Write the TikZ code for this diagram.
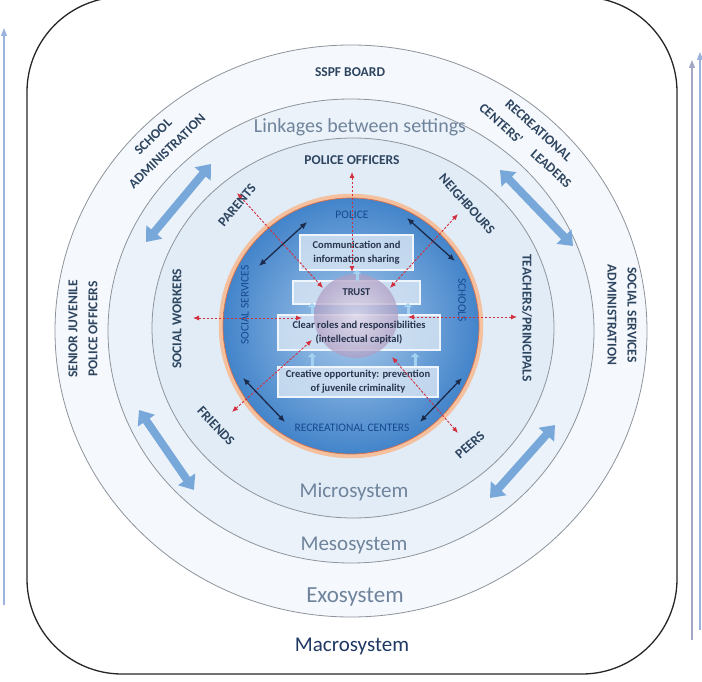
\documentclass[tikz,border=0pt]{standalone}
\usepackage{fontspec}
\setmainfont{Carlito}
\usetikzlibrary{arrows.meta}
\definecolor{ringgray}{HTML}{8E949C}
\definecolor{ring1}{HTML}{F5F8FC}
\definecolor{ring2}{HTML}{EBF2F9}
\definecolor{ring3}{HTML}{E1ECF7}
\definecolor{innerlight}{HTML}{A9CAEB}
\definecolor{innerdark}{HTML}{4384CA}
\definecolor{rimpeach}{HTML}{F4C09E}
\definecolor{rimred}{HTML}{D9704A}
\definecolor{labelc}{HTML}{2E4560}
\definecolor{sysc}{HTML}{6F849C}
\definecolor{innerblue}{HTML}{17498F}
\definecolor{boxfill}{HTML}{DCE8F5}
\definecolor{boxedge}{HTML}{EEF5FC}
\definecolor{boxtext}{HTML}{28344E}
\definecolor{bigarr}{HTML}{78A8DA}
\definecolor{redc}{HTML}{D3303F}
\definecolor{navyc}{HTML}{1B2A4A}
\definecolor{upc}{HTML}{A6D2F2}
\definecolor{sideL}{HTML}{9BB3DD}
\definecolor{sideR}{HTML}{A3A7C6}
\definecolor{sphin}{HTML}{E4D8E9}
\definecolor{sphout}{HTML}{B09CC2}
\definecolor{macroc}{HTML}{1F3864}
\tikzset{
  ringline/.style={draw=ringgray, line width=0.8pt},
  biglabel/.style={font=\bfseries\fontsize{13.5}{20}\selectfont, text=labelc, align=center, inner sep=0pt},
  sysname/.style={font=\fontsize{21}{24}\selectfont, text=sysc, inner sep=0pt},
  innerlabel/.style={font=\fontsize{11.5}{13}\selectfont, text=innerblue, inner sep=0pt},
  boxstyle/.style={fill=boxfill, fill opacity=0.8, draw=boxedge, line width=1.2pt, inner sep=0pt},
  boxtextstyle/.style={font=\bfseries\fontsize{10.5}{14}\selectfont, text=boxtext, align=center, inner sep=0pt},
  bigarrow/.style={line width=8pt, draw=bigarr, {Triangle[width=20pt,length=13pt]}-{Triangle[width=20pt,length=13pt]}},
  redarrow/.style={draw=redc, line width=0.9pt, dash pattern=on 2.5pt off 1.5pt, {Latex[length=6pt,width=5pt]}-{Latex[length=6pt,width=5pt]}},
  darkarrow/.style={draw=navyc, line width=1.3pt, {Latex[length=7pt,width=6pt]}-{Latex[length=7pt,width=6pt]}},
  uparrow/.style={draw=upc, line width=3pt, -{Triangle[width=8pt,length=4pt]}},
  sidearrow/.style={line width=1.3pt, -{Triangle[width=6pt,length=8pt]}},
}
\begin{document}
\begin{tikzpicture}[x=1pt,y=-1pt]
\useasboundingbox (0,0) rectangle (702,682);
\fill[white] (0,0) rectangle (702,682);

% side arrows
\coordinate (lA) at (4,605); \coordinate (lB) at (4,28);
\coordinate (rA) at (692,640); \coordinate (rB) at (692,60);
\coordinate (sA) at (700,630); \coordinate (sB) at (700,52);
\draw[sidearrow, draw=sideL, fill=sideL] (lA) -- (lB);
\draw[sidearrow, draw=sideR, fill=sideR] (rA) -- (rB);
\draw[sidearrow, draw=sideL, fill=sideL] (sA) -- (sB);

% frame
\draw[line width=1.3pt, draw=black!85, rounded corners=95pt] (27,-3) rectangle (677,674);

% rings
\coordinate (cen) at (351,330);
\filldraw[ringline, fill=ring1] (351,331) ellipse [x radius=296pt, y radius=286pt];
\filldraw[ringline, fill=ring2] (351,331) ellipse [x radius=243pt, y radius=232pt];
\filldraw[ringline, fill=ring3] (353,328) ellipse [x radius=201pt, y radius=190pt];

% inner disc
\draw[rimpeach, line width=4.5pt] (351,326) circle [radius=130pt];
\shade[inner color=innerlight, outer color=innerdark] (351,326) circle [radius=128pt];
\draw[rimred, line width=0.7pt] (351,326) circle [radius=128pt];

% boxes (frames)
\node[boxstyle, minimum width=113pt, minimum height=35pt] (comm) at (356.5,252.5) {};
\node[boxstyle, minimum width=127pt, minimum height=23pt] (trust) at (356.5,292.5) {};
\node[boxstyle, minimum width=162pt, minimum height=35pt] (clear) at (359,332.5) {};
\node[boxstyle, minimum width=160pt, minimum height=30pt] (creat) at (358,382) {};

% sphere
\shade[inner color=sphin, outer color=sphout, opacity=0.7] (356,316) circle [radius=42pt];

% box texts
\node[boxtextstyle] (commt) at (comm) {Communication and\\information sharing};
\node[boxtextstyle] (trustt) at (trust) {TRUST};
\node[boxtextstyle] (cleart) at (clear) {Clear roles and responsibilities\\(intellectual capital)};
\node[boxtextstyle] (creatt) at (creat) {Creative opportunity: prevention\\of juvenile criminality};

% small up arrows
\coordinate (u1a) at (312,366); \coordinate (u1b) at (312,353);
\coordinate (u2a) at (415,366); \coordinate (u2b) at (415,353);
\coordinate (u3a) at (312,314); \coordinate (u3b) at (312,303);
\coordinate (u4a) at (408,314); \coordinate (u4b) at (408,303);
\coordinate (u5a) at (357,281); \coordinate (u5b) at (357,270);
\draw[uparrow] (u1a) -- (u1b);
\draw[uparrow] (u2a) -- (u2b);
\draw[uparrow] (u3a) -- (u3b);
\draw[uparrow] (u4a) -- (u4b);
\draw[uparrow] (u5a) -- (u5b);

% inner labels
\node[innerlabel] (police) at (352,215) {POLICE};
\node[innerlabel] (reccent) at (352,428) {RECREATIONAL CENTERS};
\node[innerlabel, rotate=90] (socserv) at (245,305) {SOCIAL SERVICES};
\node[innerlabel, rotate=-90] (schools) at (462,300) {SCHOOLS};

% red dashed arrows
\coordinate (ra1) at (352,172); \coordinate (rb1) at (352,272);
\coordinate (ra2) at (237,193); \coordinate (rb2) at (323,288);
\coordinate (ra3) at (458,214); \coordinate (rb3) at (390,288);
\coordinate (ra4) at (193,318); \coordinate (rb4) at (302,318);
\coordinate (ra5) at (517,317); \coordinate (rb5) at (408,317);
\coordinate (ra6) at (232,412); \coordinate (rb6) at (312,340);
\coordinate (ra7) at (458,433); \coordinate (rb7) at (392,357);
\draw[redarrow] (ra1) -- (rb1);
\draw[redarrow] (ra2) -- (rb2);
\draw[redarrow] (ra3) -- (rb3);
\draw[redarrow] (ra4) -- (rb4);
\draw[redarrow] (ra5) -- (rb5);
\draw[redarrow] (ra6) -- (rb6);
\draw[redarrow] (ra7) -- (rb7);

% dark arrows
\coordinate (da1) at (259,266); \coordinate (db1) at (307,222);
\coordinate (da2) at (407,218); \coordinate (db2) at (455,261);
\coordinate (da3) at (243,378); \coordinate (db3) at (285,422);
\coordinate (da4) at (462,378); \coordinate (db4) at (420,422);
\draw[darkarrow] (da1) -- (db1);
\draw[darkarrow] (da2) -- (db2);
\draw[darkarrow] (da3) -- (db3);
\draw[darkarrow] (da4) -- (db4);

% big arrows in mesosystem
\coordinate (ba1) at (146,242); \coordinate (bb1) at (211,164);
\coordinate (ba2) at (500,170); \coordinate (bb2) at (573,246);
\coordinate (ba3) at (139,410); \coordinate (bb3) at (194,490);
\coordinate (ba4) at (490,498); \coordinate (bb4) at (555,425);
\draw[bigarrow] (ba1) -- (bb1);
\draw[bigarrow] (ba2) -- (bb2);
\draw[bigarrow] (ba3) -- (bb3);
\draw[bigarrow] (ba4) -- (bb4);

% microsystem labels
\node[biglabel] (polof) at (352,160) {POLICE OFFICERS};
\node[biglabel, rotate=50] (parents) at (237,205) {PARENTS};
\node[biglabel, rotate=-48] (neigh) at (467,204) {NEIGHBOURS};
\node[biglabel, rotate=90] (socw) at (177,319) {SOCIAL WORKERS};
\node[biglabel, rotate=-90] (teach) at (527,318) {TEACHERS/PRINCIPALS};
\node[biglabel, rotate=-47] (friends) at (216,426) {FRIENDS};
\node[biglabel, rotate=42] (peers) at (470,445) {PEERS};

% exosystem labels
\node[biglabel] (sspf) at (350,72) {SSPF BOARD};
\node[biglabel, rotate=44] (schooladm) at (160,144) {SCHOOL\\ADMINISTRATION};
\node[biglabel, rotate=-42] (recl) at (532,138) {RECREATIONAL\\CENTERS'\hspace{1.2em}LEADERS};
\node[biglabel, rotate=90] (senior) at (83,329) {SENIOR JUVENILE\\POLICE OFFICERS};
\node[biglabel, rotate=-90] (socadm) at (622,315) {SOCIAL SERVICES\\ADMINISTRATION};

% system names
\node[sysname, font=\fontsize{20}{24}\selectfont] (link) at (360,127) {Linkages between settings};
\node[sysname] (micro) at (354,492) {Microsystem};
\node[sysname] (meso) at (354,545) {Mesosystem};
\node[sysname, font=\fontsize{23}{26}\selectfont] (exo) at (355,597) {Exosystem};
\node[font=\fontsize{21}{24}\selectfont, text=macroc, inner sep=0pt] (macro) at (352,646) {Macrosystem};
\end{tikzpicture}
\end{document}
